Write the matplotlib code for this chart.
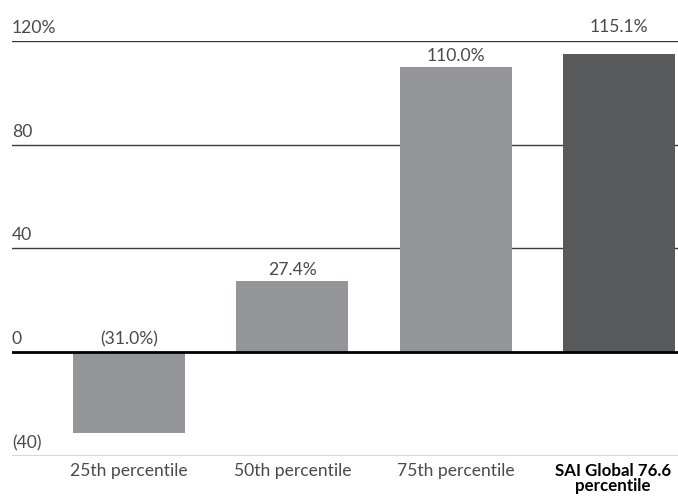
import matplotlib
matplotlib.use("Agg")
import matplotlib.pyplot as plt
import matplotlib.transforms as mtransforms

categories = ["25th percentile", "50th percentile", "75th percentile", "SAI Global 76.6\npercentile"]
values = [-31.0, 27.4, 110.0, 115.1]
value_labels = ["(31.0%)", "27.4%", "110.0%", "115.1%"]
ytick_values = [120, 80, 40, 0, -40]
ytick_labels = ["120%", "80", "40", "0", "(40)"]
colors = ["#939598", "#939598", "#939598", "#58595b"]

plt.rcParams['font.family'] = ['Lato', 'DejaVu Sans']

W, H = 678, 498
FS = 12.6
TXT = "#4a4a4a"
fig = plt.figure(figsize=(W / 100, H / 100), dpi=100)
ax = fig.add_axes([12 / W, (H - 456) / H, (678 - 12) / W, (456 - 41) / H])

x = list(range(len(categories)))
ax.bar(x, values, width=0.685, color=colors, zorder=2)

ax.set_ylim(-40, 120)
ax.set_xlim(-0.716, 3.36)

for v in ytick_values:
    if v == 0:
        ax.axhline(v, color="#000000", linewidth=2.0, zorder=3)
    else:
        ax.axhline(v, color="#3a3a3a", linewidth=1.0, zorder=1)

trans = mtransforms.blended_transform_factory(ax.transAxes, ax.transData)
for v, lab in zip(ytick_values, ytick_labels):
    t = ax.text(0, v, lab, ha="left", va="baseline", fontsize=FS, color=TXT)
    t.set_transform(trans + mtransforms.ScaledTranslation(0, 8 / 100, fig.dpi_scale_trans))

for xi, v, lab in zip(x, values, value_labels):
    if v < 0:
        y = 0
        off = 8
    elif v > 112:
        y = 120
        off = 9
    else:
        y = v
        off = 6
    t = ax.text(xi, y, lab, ha="center", va="baseline", fontsize=FS, color=TXT)
    t.set_transform(ax.transData + mtransforms.ScaledTranslation(0, off / 100, fig.dpi_scale_trans))

ax.set_yticks([])
ax.set_xticks(x)
ax.set_xticklabels(categories, fontsize=FS, color=TXT)
ax.tick_params(axis="x", length=0, pad=5)
lbls = ax.get_xticklabels()
lbls[-1].set_fontweight("bold")
lbls[-1].set_fontsize(12.2)
lbls[-1].set_color("#000000")
lbls[-1].set_linespacing(0.9)
lbls[-1].set_transform(lbls[-1].get_transform() + mtransforms.ScaledTranslation(-6 / 100, 0, fig.dpi_scale_trans))

for s in ax.spines.values():
    s.set_visible(False)

fig.savefig("out.png", dpi=100)
